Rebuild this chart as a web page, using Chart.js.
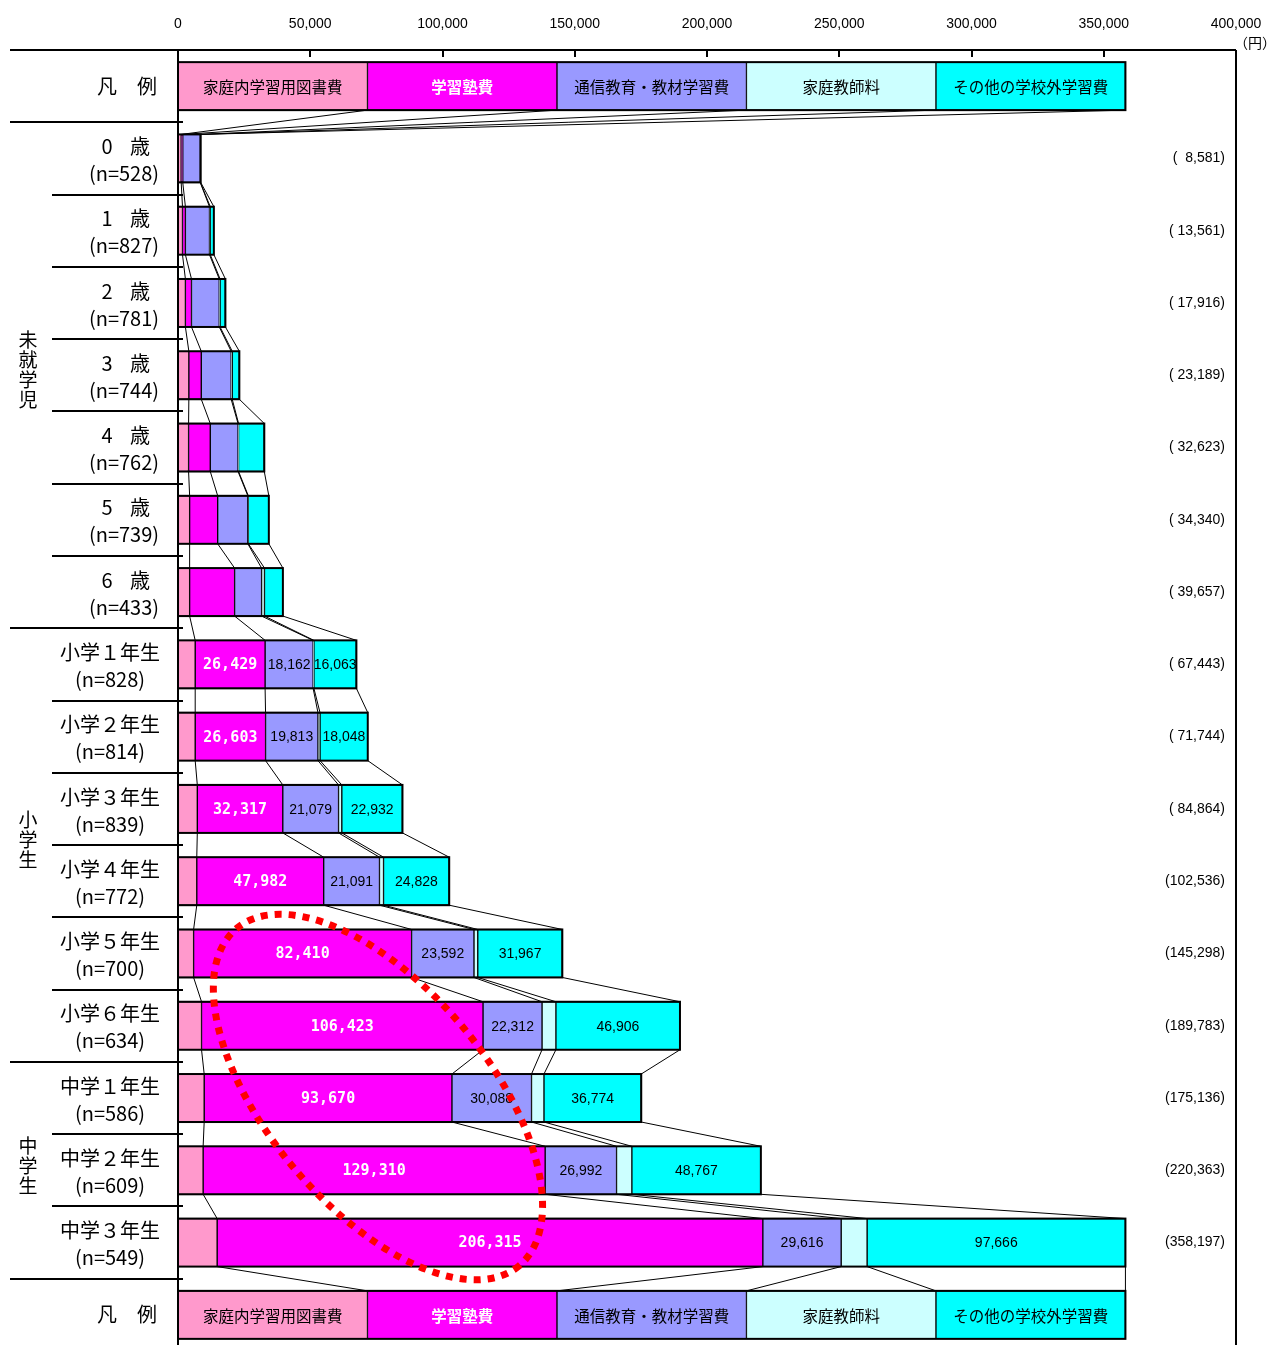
<!DOCTYPE html>
<html lang="ja">
<head>
<meta charset="utf-8">
<title>学校外活動費のうち補助学習費の内訳（学年別）</title>
<script src="https://cdn.jsdelivr.net/npm/chart.js@4.4.1/dist/chart.umd.min.js"></script>
<style>
  html, body { margin: 0; padding: 0; background: #fff; overflow: hidden; }
  #wrap { position: relative; width: 1270px; height: 1351px; }
</style>
</head>
<body>
<div id="wrap"><canvas id="c" width="1270" height="1351"></canvas></div>
<script>
// ---- data -------------------------------------------------------------
const seriesNames  = ['家庭内学習用図書費', '学習塾費', '通信教育・教材学習費', '家庭教師料', 'その他の学校外学習費'];
const seriesColors = ['#ff99cc', '#ff00ff', '#9999ff', '#ccffff', '#00ffff'];

const rowNames = ['0 歳', '1 歳', '2 歳', '3 歳', '4 歳', '5 歳', '6 歳',
  '小学１年生', '小学２年生', '小学３年生', '小学４年生', '小学５年生', '小学６年生',
  '中学１年生', '中学２年生', '中学３年生'];
const sampleSizes = [528, 827, 781, 744, 762, 739, 433, 828, 814, 839, 772, 700, 634, 586, 609, 549];
const totals = [8581, 13561, 17916, 23189, 32623, 34340, 39657, 67443, 71744, 84864,
  102536, 145298, 189783, 175136, 220363, 358197];

const books   = [1200, 1700, 2800, 4100, 4000, 4400, 4400, 6500, 6500, 7300, 7100, 5900, 8900, 9900, 9500, 14800];
const juku    = [600, 1100, 2300, 4700, 8200, 10600, 17000, 26429, 26603, 32317, 47982, 82410, 106423, 93670, 129310, 206315];
const tsushin = [6600, 9100, 10500, 11300, 10500, 11400, 10200, 18162, 19813, 21079, 21091, 23592, 22312, 30088, 26992, 29616];
const tutor   = [50, 300, 300, 400, 200, 200, 1100, 289, 780, 1236, 1535, 1429, 5242, 4704, 5794, 9800];
const other   = [131, 1361, 2016, 2689, 9723, 7740, 6957, 16063, 18048, 22932, 24828, 31967, 46906, 36774, 48767, 97666];

const groups = [
  { name: '未就学児', first: 0, last: 6 },
  { name: '小学生',   first: 7, last: 12 },
  { name: '中学生',   first: 13, last: 15 }
];
const legendRowName = '凡　例';
const xTicks = { min: 0, max: 400000, step: 50000 };
const unitLabel = '（円）';
// series whose amounts are printed inside the bars, and the first row that shows them
const labelledSeries = [1, 2, 4];
const firstLabelledRow = 7;
// highlighted region (centre in data units: amount, row)
const highlight = { amount: 75600, row: 13 };

// ---- fonts ------------------------------------------------------------
const CJK = '"Noto Sans CJK JP", "Noto Sans", sans-serif';
const LAT = '"Liberation Sans", Arial, sans-serif';
const MONO = '"DejaVu Sans Mono", monospace';

// ---- chart structure ----------------------------------------------------
const seriesValues = [books, juku, tsushin, tutor, other];
const legendShare = Math.max(...totals) / seriesNames.length;
const labels = [legendRowName, ...rowNames, legendRowName];
const fmt = n => n.toLocaleString('en-US');

const datasets = seriesNames.map((name, i) => ({
  label: name,
  data: [legendShare, ...seriesValues[i], legendShare],
  backgroundColor: seriesColors[i],
  borderColor: '#000',
  borderWidth: 1,
  borderSkipped: false,
  barThickness: 48
}));

function rowBounds(chart, r) {
  const xs = chart.scales.x;
  let c = 0;
  const out = [xs.getPixelForValue(0)];
  chart.data.datasets.forEach(ds => { c += ds.data[r]; out.push(xs.getPixelForValue(c)); });
  return out;
}

const decor = {
  id: 'decor',
  beforeDatasetsDraw(chart) {
    const { ctx } = chart;
    const meta = chart.getDatasetMeta(0);
    const n = chart.data.labels.length;
    ctx.save();
    ctx.strokeStyle = '#000';
    ctx.lineWidth = 1;
    // connector lines between the segment boundaries of neighbouring rows
    for (let r = 0; r < n - 1; r++) {
      const a = meta.data[r], b = meta.data[r + 1];
      const yb = a.y + a.height / 2, yt = b.y - b.height / 2;
      const ba = rowBounds(chart, r), bb = rowBounds(chart, r + 1);
      for (let k = 1; k < ba.length; k++) {
        ctx.beginPath();
        ctx.moveTo(ba[k], yb);
        ctx.lineTo(bb[k], yt);
        ctx.stroke();
      }
    }
    ctx.restore();
  },
  afterDatasetsDraw(chart) {
    const { ctx, chartArea: ca } = chart;
    const xs = chart.scales.x, ys = chart.scales.y;
    const meta = chart.getDatasetMeta(0);
    const n = chart.data.labels.length;
    const pitch = ys.getPixelForValue(1) - ys.getPixelForValue(0);
    ctx.save();

    // outline of every bar
    ctx.strokeStyle = '#000';
    ctx.lineWidth = 2;
    for (let r = 0; r < n; r++) {
      const el = meta.data[r];
      const b = rowBounds(chart, r);
      ctx.strokeRect(b[0], el.y - el.height / 2, b[b.length - 1] - b[0], el.height);
    }

    // frame: top rule, left axis, right border
    ctx.lineWidth = 2;
    ctx.beginPath();
    ctx.moveTo(10, ca.top); ctx.lineTo(ca.right, ca.top);
    ctx.moveTo(ca.left, ca.top); ctx.lineTo(ca.left, ca.bottom);
    ctx.moveTo(ca.right, ca.top); ctx.lineTo(ca.right, ca.bottom);
    ctx.stroke();

    // tick marks on the amount axis (pointing into the plot)
    for (let v = xTicks.min + xTicks.step; v < xTicks.max; v += xTicks.step) {
      const x = Math.round(xs.getPixelForValue(v));
      ctx.beginPath(); ctx.moveTo(x, ca.top); ctx.lineTo(x, ca.top + 7); ctx.stroke();
    }

    // row separators in the label column
    const groupEdges = new Set([1, n - 1]);
    groups.forEach(g => { groupEdges.add(g.first + 1); groupEdges.add(g.last + 2); });
    for (let i = 1; i < n; i++) {
      const y = Math.round(ys.getPixelForValue(i) - pitch / 2);
      ctx.beginPath();
      ctx.moveTo(groupEdges.has(i) ? 10 : 52, y);
      ctx.lineTo(ca.left + 5, y);
      ctx.stroke();
    }

    // unit label
    ctx.fillStyle = '#000';
    ctx.font = `14px ${CJK}`;
    ctx.textAlign = 'right';
    ctx.textBaseline = 'middle';
    ctx.fillText(unitLabel, 1276, 43);

    // row labels
    for (let r = 0; r < n; r++) {
      const yc = ys.getPixelForValue(r);
      ctx.fillStyle = '#000';
      ctx.textBaseline = 'middle';
      ctx.textAlign = 'center';
      if (r === 0 || r === n - 1) {
        ctx.font = `20px ${CJK}`;
        ctx.fillText(labels[r], 127, yc);
        continue;
      }
      const name = rowNames[r - 1];
      ctx.font = `20px ${CJK}`;
      if (name.endsWith('歳')) {
        const [d, s] = name.split(' ');
        ctx.fillText(d, 107, yc - 12);
        ctx.fillText(s, 140, yc - 12);
        ctx.fillText(`(n=${sampleSizes[r - 1]})`, 124, yc + 15);
      } else {
        ctx.fillText(name, 110, yc - 12);
        ctx.fillText(`(n=${sampleSizes[r - 1]})`, 110, yc + 15);
      }
      // total amount at the right
      ctx.font = `14px ${LAT}`;
      ctx.textAlign = 'right';
      const s = fmt(totals[r - 1]);
      ctx.fillText('(' + ' '.repeat(Math.max(0, 7 - s.length)) + s + ')', 1225, yc);
    }

    // group captions, written vertically
    ctx.font = `19px ${CJK}`;
    ctx.textAlign = 'center';
    groups.forEach(g => {
      const yc = (ys.getPixelForValue(g.first + 1) + ys.getPixelForValue(g.last + 1)) / 2 - 5;
      const chars = [...g.name];
      const step = 20;
      chars.forEach((ch, i) => ctx.fillText(ch, 28, yc + (i - (chars.length - 1) / 2) * step));
    });

    // series names inside the legend rows
    [0, n - 1].forEach(r => {
      chart.data.datasets.forEach((ds, i) => {
        const el = chart.getDatasetMeta(i).data[r];
        const cx = (el.x + el.base) / 2;
        ctx.fillStyle = i === 1 ? '#fff' : '#000';
        ctx.font = (i === 1 ? 'bold ' : '') + `15.5px ${CJK}`;
        ctx.fillText(ds.label, cx, el.y + 1);
      });
    });

    // amounts printed inside the bars
    for (let r = firstLabelledRow; r < rowNames.length; r++) {
      labelledSeries.forEach(i => {
        const el = chart.getDatasetMeta(i).data[r + 1];
        const cx = (el.x + el.base) / 2;
        const txt = fmt(seriesValues[i][r]);
        if (i === 1) {
          ctx.fillStyle = '#fff';
          ctx.font = `bold 15px ${MONO}`;
        } else {
          ctx.fillStyle = '#000';
          ctx.font = `14px ${LAT}`;
        }
        ctx.fillText(txt, cx, el.y + 1);
      });
    }
    ctx.restore();
  },
  afterDraw(chart) {
    const { ctx } = chart;
    const xs = chart.scales.x, ys = chart.scales.y;
    const cx = xs.getPixelForValue(highlight.amount);
    const cy = ys.getPixelForValue(highlight.row + 1) - 1;
    ctx.save();
    ctx.strokeStyle = '#ff0000';
    ctx.lineWidth = 7;
    ctx.setLineDash([7, 7]);
    ctx.beginPath();
    ctx.ellipse(cx, cy, 220, 110, 50 * Math.PI / 180, 0, Math.PI * 2);
    ctx.stroke();
    ctx.restore();
  }
};

new Chart(document.getElementById('c'), {
  type: 'bar',
  data: { labels, datasets },
  options: {
    indexAxis: 'y',
    responsive: false,
    animation: false,
    devicePixelRatio: 1,
    layout: { padding: { left: 178, right: 34, top: 0, bottom: 0 } },
    plugins: { legend: { display: false }, tooltip: { enabled: false } },
    scales: {
      x: {
        type: 'linear',
        position: 'top',
        stacked: true,
        min: xTicks.min,
        max: xTicks.max,
        afterFit: s => { s.height = 50; s.paddingLeft = 0; s.paddingRight = 0; },
        grid: { display: false, drawTicks: false },
        border: { display: false },
        ticks: {
          stepSize: xTicks.step,
          padding: 17,
          color: '#000',
          font: { family: LAT, size: 14 },
          maxRotation: 0,
          callback: v => fmt(v)
        }
      },
      y: {
        type: 'category',
        stacked: true,
        display: false
      }
    }
  },
  plugins: [decor]
});
</script>
</body>
</html>
